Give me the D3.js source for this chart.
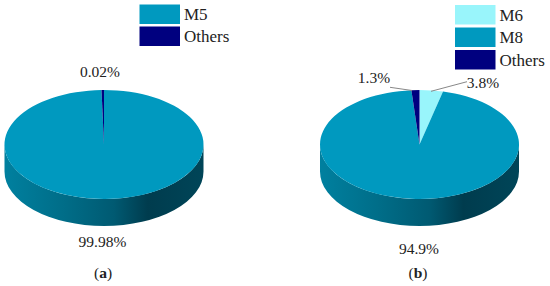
<!DOCTYPE html>
<html>
<head>
    <meta charset="utf-8">
    <script src="https://d3js.org/d3.v7.min.js"></script>
    <title>Two pies</title>
    <style>
        html, body { margin: 0; padding: 0; background: #fff; }
        svg { display: block; }
        text { font-family: "Liberation Serif", serif; font-size: 15.5px; fill: #222; }
        .legend text { font-size: 17px; }
    </style>
</head>
<body>
    <svg width="550" height="286"></svg>
    <script>
        // panel (a): the sliver is wider in the picture than 0.02% would be, so
        // the drawn share is what was read off the picture, the label is the printed one
        const namesA = ["M5", "Others"];
        const sharesA = [99.6, 0.4];
        const colorsA = ["#0099bf", "#00007f"];

        // panel (b)
        const namesB = ["M6", "M8", "Others"];
        const sharesB = [3.8, 94.9, 1.3];
        const colorsB = ["#99f5fb", "#0099bf", "#00007f"];

        const svg = d3.select("svg");
        const defs = svg.append("defs");

        const rx = 99.5, ry = 54.5, depth = 27;

        function wallGradient(id, x0) {
            const grad = defs.append("linearGradient")
                .attr("id", id)
                .attr("gradientUnits", "userSpaceOnUse")
                .attr("x1", x0 - rx).attr("x2", x0 + rx)
                .attr("y1", 0).attr("y2", 0);
            [[0, "#00809f"], [0.3, "#006d88"], [0.55, "#005a72"], [0.72, "#003c4e"], [1, "#004558"]]
                .forEach(s => grad.append("stop").attr("offset", s[0]).attr("stop-color", s[1]));
        }

        // x/y of a pie angle on the top ellipse (0 = 12 o'clock, clockwise)
        function onRim(a, cx, cy) {
            return [cx + rx * Math.sin(a), cy - ry * Math.cos(a)];
        }

        function drawPie(shares, colors, cx, cy, gradId) {
            wallGradient(gradId, cx);

            const slices = d3.pie().sort(null)(shares);

            // side wall: only the front half of the rim shows
            slices.forEach((d) => {
                const a0 = Math.max(d.startAngle, Math.PI / 2);
                const a1 = Math.min(d.endAngle, 3 * Math.PI / 2);
                if (a1 <= a0) return;
                const p0 = onRim(a0, cx, cy), p1 = onRim(a1, cx, cy);
                svg.append("path")
                    .attr("fill", `url(#${gradId})`)
                    .attr("d", `M${p0} A${rx},${ry} 0 0 1 ${p1} L${p1[0]},${p1[1] + depth}` +
                        ` A${rx},${ry} 0 0 0 ${p0[0]},${p0[1] + depth} Z`);
            });

            // top face: flat arc squashed into the ellipse
            const arc = d3.arc().innerRadius(0).outerRadius(rx);
            svg.append("g")
                .attr("transform", `translate(${cx},${cy}) scale(1,${ry / rx})`)
                .selectAll("path")
                .data(slices)
                .enter().append("path")
                .attr("d", arc)
                .attr("fill", (d, i) => colors[i]);
        }

        function drawLegend(names, colors, x, y, rowH, boxW, boxH) {
            const row = svg.append("g").attr("class", "legend").selectAll("g")
                .data(names)
                .enter().append("g")
                .attr("transform", (d, i) => `translate(${x},${y + i * rowH})`);
            row.append("rect")
                .attr("width", boxW).attr("height", boxH)
                .attr("fill", (d, i) => colors[i]);
            row.append("text")
                .attr("x", boxW + 4)
                .attr("y", boxH / 2 + 6)
                .text(d => d);
        }

        function label(txt, x, y) {
            svg.append("text")
                .attr("x", x).attr("y", y)
                .attr("text-anchor", "middle")
                .text(txt);
        }

        drawPie(sharesA, colorsA, 104, 144.5, "wallA");
        drawPie(sharesB, colorsB, 419.5, 144.5, "wallB");

        drawLegend(namesA, colorsA, 139.5, 4.5, 22, 40.5, 19.5);
        drawLegend(namesB, colorsB, 455, 5, 22.5, 40.5, 19.5);

        label("0.02%", 100, 77);
        label("99.98%", 102.5, 247);
        label("1.3%", 374, 83);
        label("3.8%", 483, 88);
        label("94.9%", 419, 254);

        // leader lines of panel (b)
        const leaders = [[[390, 87.3], [412, 90.5]], [[467, 81.7], [431, 91.3]]];
        svg.append("g").selectAll("line")
            .data(leaders)
            .enter().append("line")
            .attr("x1", d => d[0][0]).attr("y1", d => d[0][1])
            .attr("x2", d => d[1][0]).attr("y2", d => d[1][1])
            .attr("stroke", "#888").attr("stroke-width", 1);

        // captions with bold letter
        function caption(letter, x, y) {
            const t = svg.append("text").attr("x", x).attr("y", y).attr("text-anchor", "middle");
            t.append("tspan").text("(");
            t.append("tspan").style("font-weight", "bold").text(letter);
            t.append("tspan").text(")");
        }
        caption("a", 103, 278);
        caption("b", 418, 278);
    </script>
</body>
</html>
